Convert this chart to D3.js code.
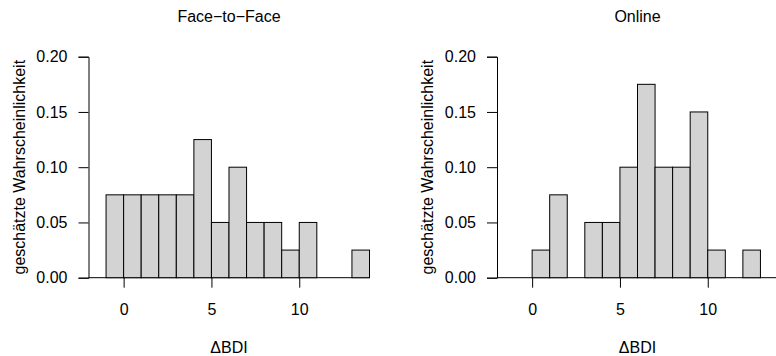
<!DOCTYPE html>
<html>
<head>
<meta charset="utf-8">
<script src="https://cdn.jsdelivr.net/npm/d3@7"></script>
<style>
  body { margin: 0; background: #fff; }
  svg { display: block; font-family: "Liberation Sans", Arial, Helvetica, sans-serif; }
</style>
</head>
<body>
<svg id="chart" width="776" height="356"></svg>
<script>
// histogram data (density per bin of width 1)
var titles = ["Face\u2212to\u2212Face", "Online"];
var breaksF2F = [-1, 0, 1, 2, 3, 4, 5, 6, 7, 8, 9, 10, 11, 12, 13, 14];
var densF2F = [0.075, 0.075, 0.075, 0.075, 0.075, 0.125, 0.05, 0.10, 0.05, 0.05, 0.025, 0.05, 0, 0, 0.025];
var breaksOnline = [0, 1, 2, 3, 4, 5, 6, 7, 8, 9, 10, 11, 12, 13];
var densOnline = [0.025, 0.075, 0, 0.05, 0.05, 0.10, 0.175, 0.10, 0.10, 0.15, 0.025, 0, 0.025];
var xTicks = [0, 5, 10];
var yTicks = [0, 0.05, 0.10, 0.15, 0.20];
var yLabel = "geschätzte Wahrscheinlichkeit";
var xLabel = "\u0394BDI";

var fs = 16;
var svg = d3.select("#chart");

var panels = [
  {title: titles[0], breaks: breaksF2F, dens: densF2F, left: 88.5},
  {title: titles[1], breaks: breaksOnline, dens: densOnline, left: 497}
];

var plotW = 281, plotTop = 56.7, plotBottom = 277.7;

var y = d3.scaleLinear()
    .domain([0, 0.2])
    .range([plotBottom, plotTop]);

panels.forEach(function(p) {
  var x = d3.scaleLinear()
      .domain([-2, 14])
      .range([p.left, p.left + plotW]);

  var bins = p.dens.map(function(d, i) {
    return {x0: p.breaks[i], x1: p.breaks[i + 1], d: d};
  });

  var g = svg.append("g");

  // baseline across the plot region
  g.append("line")
      .attr("x1", x(-2)).attr("x2", x(14))
      .attr("y1", y(0)).attr("y2", y(0))
      .attr("stroke", "#000");

  g.selectAll("rect.bar")
    .data(bins)
    .enter().append("rect")
      .attr("class", "bar")
      .attr("x", function(b) { return x(b.x0); })
      .attr("width", function(b) { return x(b.x1) - x(b.x0); })
      .attr("y", function(b) { return y(b.d); })
      .attr("height", function(b) { return y(0) - y(b.d); })
      .attr("fill", "#d3d3d3")
      .attr("stroke", "#000")
      .attr("stroke-width", 1);

  // y axis
  var ya = g.append("g")
      .attr("transform", "translate(" + x(-2) + ",0)")
      .call(d3.axisLeft(y).tickValues(yTicks).tickFormat(d3.format(".2f")).tickSizeOuter(0).tickSize(10).tickPadding(11));
  ya.select(".domain").attr("stroke", "#000");
  ya.selectAll("text").attr("font-size", fs).attr("fill", "#000");
  ya.selectAll("line").attr("stroke", "#000");
  ya.attr("font-family", null);

  // x axis (ticks only, baseline is drawn above)
  var xa = g.append("g")
      .attr("transform", "translate(0," + y(0) + ")")
      .call(d3.axisBottom(x).tickValues(xTicks).tickSizeOuter(0).tickSize(10).tickPadding(16));
  xa.select(".domain").remove();
  xa.selectAll("text").attr("font-size", fs).attr("fill", "#000");
  xa.selectAll("line").attr("stroke", "#000");
  xa.attr("font-family", null);

  var cx = (x(-2) + x(14)) / 2;

  g.append("text")
      .attr("x", cx).attr("y", 21.5)
      .attr("text-anchor", "middle")
      .attr("font-size", fs)
      .text(p.title);

  g.append("text")
      .attr("x", cx).attr("y", 353)
      .attr("text-anchor", "middle")
      .attr("font-size", fs)
      .text(xLabel);

  g.append("text")
      .attr("transform", "translate(" + (p.left - 64) + "," + ((plotTop + plotBottom) / 2) + ") rotate(-90)")
      .attr("text-anchor", "middle")
      .attr("font-size", fs)
      .text(yLabel);
});
</script>
</body>
</html>
